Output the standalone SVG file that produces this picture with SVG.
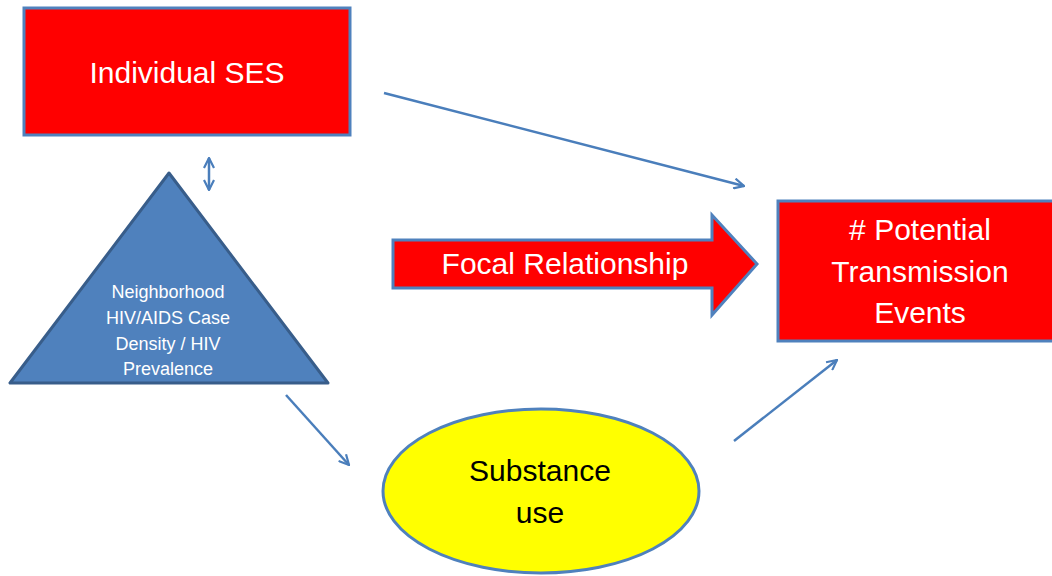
<svg xmlns="http://www.w3.org/2000/svg" width="1052" height="576" viewBox="0 0 1052 576">
<style>
text{font-family:"Liberation Sans",Arial,sans-serif;text-anchor:middle}
.box{fill:#FF0000;stroke:#4F81BD;stroke-width:3}
.wt{fill:#FFFFFF;font-size:30px}
.conn{fill:none;stroke:#4A7EBB;stroke-width:2.5}
</style>
<defs>
<marker id="ah" viewBox="0 0 12 12" refX="11" refY="6" markerWidth="12" markerHeight="12" markerUnits="userSpaceOnUse" orient="auto-start-reverse">
<path d="M1,1 L11,6 L1,11" fill="none" stroke="#4A7EBB" stroke-width="2.2"/>
</marker>
</defs>
<rect width="1052" height="576" fill="#FFFFFF"/>
<g id="connectors">
<line class="conn" x1="384" y1="93" x2="744" y2="186" marker-end="url(#ah)"/>
<line class="conn" x1="209" y1="158" x2="209" y2="190" marker-start="url(#ah)" marker-end="url(#ah)"/>
<line class="conn" x1="286" y1="395" x2="349" y2="465" marker-end="url(#ah)"/>
<line class="conn" x1="734" y1="441" x2="837" y2="360" marker-end="url(#ah)"/>
</g>
<g id="individual-ses">
<rect class="box" x="24" y="8" width="326" height="127"/>
<text class="wt" x="187" y="83">Individual SES</text>
</g>
<g id="neighborhood">
<polygon points="169,173 10,383 328,383" fill="#4F81BD" stroke="#385D8A" stroke-width="3" stroke-linejoin="round"/>
<text x="168" y="298" fill="#FFFFFF" font-size="18">Neighborhood</text>
<text x="168" y="324" fill="#FFFFFF" font-size="18">HIV/AIDS Case</text>
<text x="168" y="350" fill="#FFFFFF" font-size="18">Density / HIV</text>
<text x="168" y="375" fill="#FFFFFF" font-size="18">Prevalence</text>
</g>
<g id="focal-relationship">
<polygon points="393,240 712,240 712,215 757,264 712,315 712,288 393,288" fill="#FF0000" stroke="#4F81BD" stroke-width="3" stroke-linejoin="miter"/>
<text x="565" y="274" fill="#FFFFFF" font-size="30">Focal Relationship</text>
</g>
<g id="potential-transmission">
<rect class="box" x="778" y="201" width="280" height="140"/>
<text class="wt" x="920" y="240">#&#160;Potential</text>
<text class="wt" x="920" y="282">Transmission</text>
<text class="wt" x="920" y="323">Events</text>
</g>
<g id="substance-use">
<ellipse cx="541" cy="491" rx="158" ry="82" fill="#FFFF00" stroke="#4F81BD" stroke-width="3"/>
<text x="540" y="481" fill="#000000" font-size="30">Substance</text>
<text x="540" y="523" fill="#000000" font-size="30">use</text>
</g>
</svg>
